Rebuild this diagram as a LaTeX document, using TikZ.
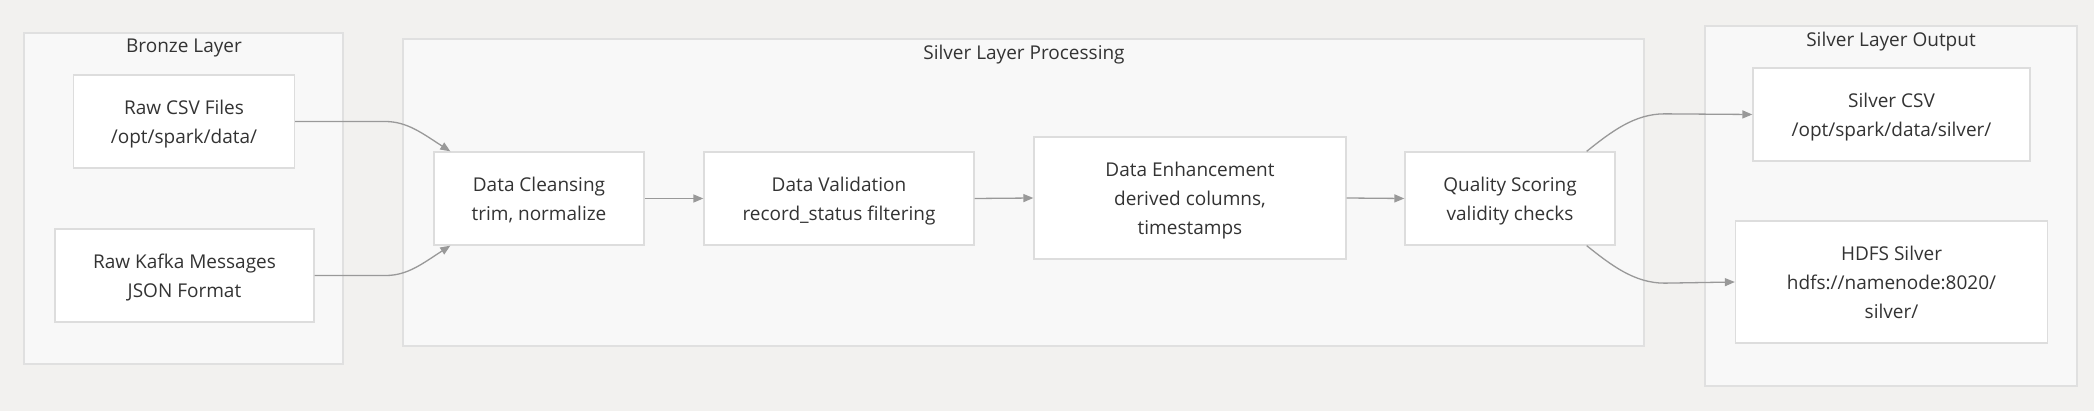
\documentclass[tikz,border=0pt]{standalone}
\usepackage{fontspec}
\setmainfont{Open Sans}
\usetikzlibrary{arrows.meta}
\definecolor{bgc}{RGB}{242,241,239}
\definecolor{clfill}{RGB}{248,248,248}
\definecolor{clline}{RGB}{224,224,224}
\definecolor{boxline}{RGB}{221,221,221}
\definecolor{txt}{RGB}{51,51,51}
\definecolor{arr}{RGB}{153,153,153}
\newcommand{\mystrut}{\rule[-7.15pt]{0pt}{29pt}}
\begin{document}
\begin{tikzpicture}[x=1pt,y=-1pt,
  cluster/.style={draw=clline, fill=clfill, line width=1.3pt},
  cltitle/.style={text=txt, font=\fontsize{19}{29}\selectfont, inner sep=0pt},
  box/.style={draw=boxline, fill=white, line width=1.3pt, text=txt, align=center,
    font=\fontsize{19}{29}\selectfont, inner sep=0pt, minimum height=93pt},
  link/.style={draw=arr, line width=1.3pt, -{Triangle[length=10pt,width=8pt]}}
  ]
\useasboundingbox (0,0) rectangle (2094,411);
\fill[bgc] (0,0) rectangle (2094,411);
% clusters
\draw[cluster] (24,33) rectangle (343,364);
\node[cltitle] (tbronze) at (184,45.6) {\mystrut Bronze Layer};
\draw[cluster] (403,39) rectangle (1644,346);
\node[cltitle] (tproc) at (1024,52.6) {\mystrut Silver Layer Processing};
\draw[cluster] (1705,26) rectangle (2077,386);
\node[cltitle] (tout) at (1891,39.6) {\mystrut Silver Layer Output};
% nodes
\node[box, minimum width=221pt] (csv) at (184,121.5) {\mystrut Raw CSV Files\\\mystrut /opt/spark/data/};
\node[box, minimum width=259pt] (kafka) at (184.5,275.5) {\mystrut Raw Kafka Messages\\\mystrut JSON Format};
\node[box, minimum width=210pt] (clean) at (539,198.5) {\mystrut Data Cleansing\\\mystrut trim, normalize};
\node[box, minimum width=270pt] (valid) at (839,198.5) {\mystrut Data Validation\\\mystrut record\_status filtering};
\node[box, minimum width=312pt, minimum height=122pt] (enh) at (1190,198) {\mystrut Data Enhancement\\\mystrut derived columns,\\\mystrut timestamps};
\node[box, minimum width=210pt] (qual) at (1510,198.5) {\mystrut Quality Scoring\\\mystrut validity checks};
\node[box, minimum width=277pt] (scsv) at (1891.5,114.5) {\mystrut Silver CSV\\\mystrut /opt/spark/data/silver/};
\node[box, minimum width=312pt, minimum height=122pt] (hdfs) at (1891.5,282) {\mystrut HDFS Silver\\\mystrut hdfs://namenode:8020/\\\mystrut silver/};
% edges
\draw[link] (csv.east) -- ++(90,0) .. controls +(22,0) and +(-28,-18) .. ([xshift=17pt]clean.north west);
\draw[link] (kafka.east) -- ++(71,0) .. controls +(22,0) and +(-28,18) .. ([xshift=17pt]clean.south west);
\draw[link] (clean.east) -- (valid.west);
\draw[link] (valid.east) -- (enh.west);
\draw[link] (enh.east) -- (qual.west);
\draw[link] ([xshift=-29pt]qual.north east) .. controls +(25,-20) and +(-30,0) .. ++(78,-37.5) -- (scsv.west);
\draw[link] ([xshift=-29pt]qual.south east) .. controls +(25,20) and +(-30,0) .. ++(78,37.5) -- (hdfs.west);
\end{tikzpicture}
\end{document}
